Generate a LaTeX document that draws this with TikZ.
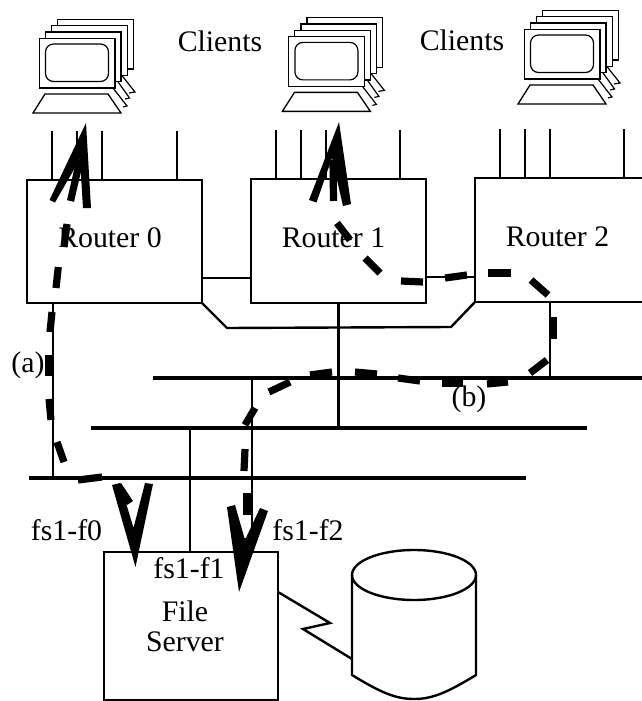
\documentclass[tikz,border=0pt]{standalone}
\usepackage{fontspec}
\setmainfont{Liberation Serif}
\usetikzlibrary{calc}
\begin{document}
\begin{tikzpicture}[
        x=0.5pt, y=-0.5pt,
        every node/.style={font=\fontsize{14.9}{16}\selectfont, inner sep=0pt, outer sep=0pt},
        box/.style={draw=black, line width=1.1pt, fill=none},
        stub/.style={line width=0.6pt},
        pc/.style={line width=0.65pt, fill=white},
        link/.style={line width=1.2pt},
        bus/.style={line width=2.4pt},
        route/.style={line width=3.6pt},
        head/.style={fill=black}
    ]
        \useasboundingbox (0,0) rectangle (642,701);
        \clip (0,0) rectangle (642,701);

        % client groups
        \foreach \dx/\dy in {0/0, 249.4/-1.6, 485/-9} {
            \begin{scope}[shift={(\dx,\dy)}]
                \draw[stub] (121.5,75) -- (135,92) -- (129,93);
                \draw[stub] (116,79) -- (129.5,98) -- (125,99);
                \draw[stub] (113,88) -- (127,106) -- (123,107);
                \foreach \k in {3,2,1,0}
                    \draw[pc] (39.3+6.1*\k,38.3-6.3*\k) rectangle (115+6.1*\k,88-6.3*\k);
                \draw[stub, rounded corners=4pt] (45.5,44) rectangle (108.5,81.5);
                \draw[pc] (33,113) -- (45,94) -- (108,94) -- (121,113) -- cycle;
            \end{scope}
        }
        \node (clients0) at (220,41) {Clients};
        \node (clients1) at (462,40) {Clients};

        % routers
        \node[box, minimum width=87.5pt, minimum height=61.5pt] (r0) at (114.5,241.5) {};
        \node[box, minimum width=87.5pt, minimum height=62pt] (r1) at (338.5,241) {};
        \node[box, minimum width=110pt, minimum height=62pt] (r2) at (585,240) {};
        \node (r0text) at (110,238) {Router 0};
        \node (r1text) at (333.5,238) {Router 1};
        \node (r2text) at (557.5,237) {Router 2};

        \foreach \rt/\a/\b/\c/\d in {r0/25/50/75/150, r1/25/50/75/149, r2/25/50/75/149}
            \foreach \dx in {\a,\b,\c,\d}
                \draw[stub] ($(\rt.north west)+(\dx,0)$) -- ++(0,-49);

        \draw[link] (r0.east |- 0,278) -- (r1.west |- 0,278);
        \draw[link] (r1.east |- 0,277) -- (r2.west |- 0,277);
        \draw[link] (r0.south east) -- ++(25,25) -- ($(r2.south west)+(-24,25)$) -- (r2.south west);

        % buses
        \coordinate (bus0w) at (153,378);
        \coordinate (bus0e) at (642,378);
        \coordinate (bus1w) at (91,428);
        \coordinate (bus1e) at (587,428);
        \coordinate (bus2w) at (29,478);
        \coordinate (bus2e) at (526,478);
        \draw[bus] (bus0w) -- (bus0e);
        \draw[bus] (bus1w) -- (bus1e);
        \draw[bus] (bus2w) -- (bus2e);

        % file server and disk
        \node[box, minimum width=87pt, minimum height=74pt] (fs) at (191,626) {};
        \node (fs0) at (66.5,530) {fs1-f0};
        \node (fs1) at (189,568) {fs1-f1};
        \node (fs2) at (308,530) {fs1-f2};
        \node (fstext0) at (185,611) {File};
        \node (fstext1) at (185,642) {Server};

        \draw[link] (r0.south west -| 53,0) -- (bus2w -| 53,0);
        \draw[link] (r1.south) -- (bus1w -| r1.south);
        \draw[link] (r2.south west -| 550,0) -- (bus0w -| 550,0);
        \draw[link] (bus1w -| 190,0) -- (fs.north -| 190,0);
        \draw[link] (bus0w -| 252,0) -- (fs.north -| 252,0);

        \draw[line width=1.2pt] (414,575) ellipse [x radius=62, y radius=25];
        \draw[line width=1.2pt] (352,575) -- (352,675) .. controls (380,692) and (395,699) .. (414,699)
            .. controls (433,699) and (448,692) .. (476,675) -- (476,575);
        \coordinate (disk) at (352,659);
        \draw[link] (fs.east |- 0,592) -- (330,623) -- (303,629) -- (disk);

        % path (a)
        \foreach \xa/\ya/\xb/\yb in {70.5/201/80/160, 67/224/64/247, 58.3/267/56/288, 52/312/50/332, 49/355/49/376,
                49/399/51/420, 57/442/64/462, 78/480/102/477, 118/485/130/503}
            \draw[route] (\xa,\ya) -- (\xb,\yb);
        \node (a) at (28,365) {(a)};

        % path (b)
        \foreach \xa/\ya/\xb/\yb in {333.5/201/333/160, 337/223/350/240, 365/258/380/273, 401/281/423/282,
                445/278/467/275, 488/273/511/273, 531/280/548/295, 553/317/553/339,
                547/360/530/373, 508/382/487/384, 463/383/442/383, 420/381/398/378,
                377/374/355/372, 332/372/310/375, 290/382/269/392, 255/408/245/425,
                245/449/244/471, 247/493/247/515, 245/538/245/552}
            \draw[route] (\xa,\ya) -- (\xb,\yb);
        \node (b) at (469,399) {(b)};

        % arrowheads
        \fill[head] (49.5,200) -- (55,202.5) -- (80,159) -- (83,208) -- (91,208) -- (86,123) -- cycle;
        \fill[head] (309,200) -- (316.5,202.5) -- (332,158) -- (343,206) -- (351,204) -- (339,122) -- cycle;
        \fill[head] (112,485) -- (120,483) -- (133.5,528) -- (145,483) -- (153,484) -- (135.5,567) -- cycle;
        \fill[head] (227,507) -- (235,505) -- (245,540) -- (260,508) -- (268,511) -- (239,592) -- cycle;
    \end{tikzpicture}
\end{document}
